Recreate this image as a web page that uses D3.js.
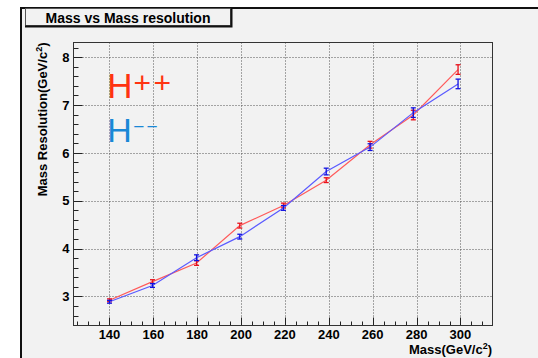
<!DOCTYPE html>
<html><head><meta charset="utf-8">
<script src="https://cdn.jsdelivr.net/npm/d3@7"></script>
<style>body{margin:0;background:#fff}svg{display:block}text{font-family:"Liberation Sans",Arial,Helvetica,sans-serif}</style>
</head><body><svg id="c" width="538" height="358"></svg>
<script>
// ---- data ----
const mass = [140, 159.6, 179.7, 199.4, 219.3, 238.8, 258.8, 278.5, 298.9];
const resPlusPlus = [2.92, 3.31, 3.70, 4.48, 4.90, 5.43, 6.17, 6.79, 7.74];
const errPlusPlus = [0.03, 0.04, 0.05, 0.05, 0.05, 0.05, 0.07, 0.10, 0.10];
const resMinusMinus = [2.89, 3.23, 3.81, 4.25, 4.85, 5.61, 6.12, 6.84, 7.44];
const errMinusMinus = [0.03, 0.04, 0.06, 0.05, 0.05, 0.07, 0.07, 0.10, 0.10];
const xTicks = [140, 160, 180, 200, 220, 240, 260, 280, 300];
const yTicks = [3, 4, 5, 6, 7, 8];
const titleText = "Mass vs Mass resolution";

const svg = d3.select("#c");
const fr = {l: 73.5, t: 42.5, r: 492.5, b: 325.5};
const x = d3.scaleLinear().domain([123.6, 314.6]).range([fr.l, fr.r]);
const y = d3.scaleLinear().domain([2.394, 8.305]).range([fr.b, fr.t]);

// canvas
svg.append("rect").attr("x", 21).attr("y", 8).attr("width", 600).attr("height", 400)
  .attr("fill", "#f2f2f2").attr("stroke", "#111").attr("stroke-width", 2);

// title box
svg.append("rect").attr("x", 25.5).attr("y", 8.5).attr("width", 205).attr("height", 17)
  .attr("fill", "#f2f2f2").attr("stroke", "#555").attr("stroke-width", 1);
svg.append("path").attr("d", "M231.5,8 V26.5 H25").attr("fill", "none").attr("stroke", "#111").attr("stroke-width", 2);
svg.append("text").attr("x", 128).attr("y", 22.5).attr("text-anchor", "middle")
  .attr("font-size", 14).attr("font-weight", "bold").attr("fill", "#000").text(titleText);

// frame
svg.append("rect").attr("x", fr.l).attr("y", fr.t).attr("width", fr.r - fr.l).attr("height", fr.b - fr.t)
  .attr("fill", "#f2f2f2");

// grid
const g = svg.append("g");
g.selectAll(".gx").data(xTicks).enter().append("line")
  .attr("x1", d => Math.round(x(d)) + 0.5).attr("x2", d => Math.round(x(d)) + 0.5)
  .attr("y1", fr.t).attr("y2", fr.b).attr("stroke", "#555").attr("stroke-dasharray", "1,2");
g.selectAll(".gy").data(yTicks).enter().append("line")
  .attr("y1", d => Math.round(y(d)) + 0.5).attr("y2", d => Math.round(y(d)) + 0.5)
  .attr("x1", fr.l).attr("x2", fr.r).attr("stroke", "#555").attr("stroke-dasharray", "1,2");

// ticks (inside)
const xMinor = d3.range(125, 315, 5).filter(v => !xTicks.includes(v));
const yMinor = d3.range(2.4, 8.3, 0.2).map(v => +v.toFixed(1)).filter(v => !yTicks.includes(v));
const tk = svg.append("g").attr("stroke", "#222");
tk.selectAll(".xm").data(xMinor).enter().append("line")
  .attr("x1", d => Math.round(x(d)) + 0.5).attr("x2", d => Math.round(x(d)) + 0.5)
  .attr("y1", fr.b).attr("y2", fr.b - 4);
tk.selectAll(".xM").data(xTicks).enter().append("line")
  .attr("x1", d => Math.round(x(d)) + 0.5).attr("x2", d => Math.round(x(d)) + 0.5)
  .attr("y1", fr.b).attr("y2", fr.b - 8);
tk.selectAll(".ym").data(yMinor).enter().append("line")
  .attr("y1", d => Math.round(y(d)) + 0.5).attr("y2", d => Math.round(y(d)) + 0.5)
  .attr("x1", fr.l).attr("x2", fr.l + 5);
tk.selectAll(".yM").data(yTicks).enter().append("line")
  .attr("y1", d => Math.round(y(d)) + 0.5).attr("y2", d => Math.round(y(d)) + 0.5)
  .attr("x1", fr.l).attr("x2", fr.l + 9);

svg.append("rect").attr("x", fr.l).attr("y", fr.t).attr("width", fr.r - fr.l).attr("height", fr.b - fr.t)
  .attr("fill", "none").attr("stroke", "#333");

// tick labels
svg.selectAll(".xl").data(xTicks).enter().append("text")
  .attr("x", d => x(d)).attr("y", 339).attr("text-anchor", "middle")
  .attr("font-size", 13).attr("font-weight", "bold").text(d => d);
svg.selectAll(".yl").data(yTicks).enter().append("text")
  .attr("x", 69.5).attr("y", d => y(d)).attr("dy", "0.36em").attr("text-anchor", "end")
  .attr("font-size", 13).attr("font-weight", "bold").text(d => d);

// axis titles
const xt = svg.append("text").attr("x", 492).attr("y", 353.5).attr("text-anchor", "end")
  .attr("font-size", 13).attr("font-weight", "bold");
xt.append("tspan").text("Mass(GeV/c");
xt.append("tspan").attr("font-size", 9).attr("dy", -5).text("2");
xt.append("tspan").attr("dy", 5).text(")");
const yt = svg.append("text").attr("transform", "translate(46.5,42.5) rotate(-90)").attr("text-anchor", "end")
  .attr("font-size", 13).attr("font-weight", "bold");
yt.append("tspan").text("Mass Resolution(GeV/c");
yt.append("tspan").attr("font-size", 9).attr("dy", -5).text("2");
yt.append("tspan").attr("dy", 5).text(")");

// series
const series = [
  {v: resPlusPlus, e: errPlusPlus, line: "#ff5a5a", bar: "#e8101a"},
  {v: resMinusMinus, e: errMinusMinus, line: "#5a5aff", bar: "#1010e0"}
];
const line = d3.line().x(d => x(d[0])).y(d => y(d[1]));
series.forEach(s => {
  const pts = mass.map((m, i) => [m, s.v[i], s.e[i]]);
  svg.append("path").datum(pts).attr("d", line).attr("fill", "none")
    .attr("stroke", s.line).attr("stroke-width", 1.2);
  const eg = svg.append("g").attr("stroke", s.bar).attr("stroke-width", 1.3);
  eg.selectAll("line.v").data(pts).enter().append("line")
    .attr("x1", d => x(d[0])).attr("x2", d => x(d[0]))
    .attr("y1", d => y(d[1] - d[2])).attr("y2", d => y(d[1] + d[2]));
  eg.selectAll("line.t").data(pts).enter().append("line")
    .attr("x1", d => x(d[0]) - 2.5).attr("x2", d => x(d[0]) + 2.5)
    .attr("y1", d => y(d[1] + d[2])).attr("y2", d => y(d[1] + d[2]));
  eg.selectAll("line.b").data(pts).enter().append("line")
    .attr("x1", d => x(d[0]) - 2.5).attr("x2", d => x(d[0]) + 2.5)
    .attr("y1", d => y(d[1] - d[2])).attr("y2", d => y(d[1] - d[2]));
});

// legend labels
const l1 = svg.append("text").attr("x", 107.3).attr("y", 98.3).attr("fill", "#ff3311").attr("font-size", 35);
l1.append("tspan").text("H");
l1.append("tspan").attr("font-size", 30).attr("dx", 1).attr("y", 92.7).attr("letter-spacing", 2.5).text("++");
const l2 = svg.append("text").attr("x", 107.3).attr("y", 141.7).attr("fill", "#1a88d6").attr("font-size", 34);
l2.append("tspan").text("H");
l2.append("tspan").attr("font-size", 19).attr("dx", 1.5).attr("y", 132.5).attr("letter-spacing", 2).text("\u2212\u2212");
</script></body></html>
